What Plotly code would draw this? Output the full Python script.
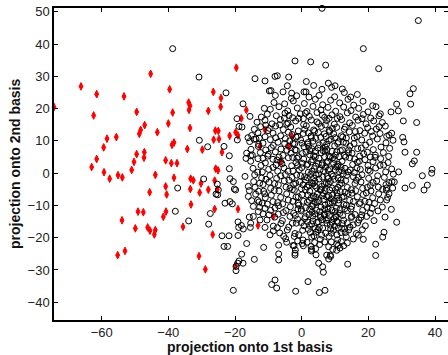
import plotly.graph_objects as go

# ---------------- data ----------------
red_pts = [
    (-74.3, 20.5), (-66.2, 26.9), (-61.5, 24.5), (-62.4, 17.9), (-53.3, 23.8), (-45.3, 30.8),
    (-49.5, 19.0), (-58.4, 10.7), (-55.6, 11.2), (-59.4, 8.0), (-61.5, 4.4), (-63.0, 1.9),
    (-59.3, 0.3), (-57.6, -1.7), (-55.1, -0.6), (-53.8, -1.3), (-51.0, 1.0), (-50.3, 3.5),
    (-49.5, 5.9), (-48.7, 12.2), (-48.3, 13.4), (-47.1, 14.9), (-47.2, 6.5), (-47.3, 4.8),
    (-43.3, 12.7), (-43.9, -0.5), (-45.6, -5.9), (-39.6, 26.0), (-38.7, 18.8), (-40.0, 15.4),
    (-38.9, 8.8), (-38.3, 9.5), (-40.8, 4.0), (-39.1, 3.1), (-37.4, 3.1), (-38.3, -1.4),
    (-40.8, -4.1), (-40.5, -6.6), (-49.1, -11.9), (-47.5, -12.1), (-53.9, -14.6), (-49.9, -17.1),
    (-46.2, -16.8), (-45.5, -17.8), (-44.2, -19.0), (-43.9, -17.6), (-41.5, -13.5), (-40.7, -11.9),
    (-55.2, -25.4), (-53.0, -24.1), (-33.9, 21.9), (-33.5, 20.9), (-33.8, 19.6), (-33.5, 14.0),
    (-34.3, 7.5), (-33.3, -1.7), (-32.5, -2.2), (-33.4, -4.9), (-33.2, -9.7), (-35.6, -16.6),
    (-30.8, -25.7), (-28.9, -29.8), (-30.2, -3.2), (-30.6, -6.0), (-29.8, 7.3), (-28.0, 19.3),
    (-26.5, 25.2), (-24.2, 23.3), (-24.3, 20.6), (-25.9, 13.2), (-25.0, 13.1), (-26.4, 10.4),
    (-24.8, 10.6), (-23.9, 6.5), (-25.8, 1.4), (-25.1, 0.9), (-26.1, -2.3), (-25.3, -5.0),
    (-28.0, -5.1), (-26.1, -11.1), (-26.7, -19.0), (-19.6, 32.7), (-21.6, 11.6), (-19.8, 12.7),
    (-19.1, 11.7), (-18.1, 17.0), (-16.6, 19.6), (-19.1, -11.1), (-13.1, -16.2), (-19.9, -28.7),
    (-12.5, 8.3), (-11.0, 13.4), (-3.9, 8.3), (-2.9, 11.4), (-6.3, 3.6), (-8.5, -13.4),
]

circles_outer = [
    (6.1, 51.1), (35.0, 47.3), (-38.7, 38.6), (18.5, 38.6), (-2.0, 34.8), (2.7, 34.5), (7.2, 33.5),
    (23.1, 32.4), (44.0, 32.3), (-30.8, 29.8), (-14.0, 29.3), (-11.0, 28.6), (-8.0, 30.0), (-7.3, 30.2),
    (-3.9, 29.8), (1.4, 28.4), (-22.7, 24.9), (-9.7, 25.5), (-9.2, 25.6), (-7.9, 24.1), (-5.6, 25.2),
    (-4.3, 27.1), (-3.0, 24.8), (-1.5, 24.0), (0.7, 25.2), (1.3, 25.2), (3.6, 27.2), (6.1, 26.0),
    (8.0, 27.9), (9.0, 26.6), (10.0, 27.1), (12.2, 26.1), (12.8, 25.0), (16.7, 24.4), (33.5, 26.2),
    (32.5, 24.6), (32.7, 21.4), (28.5, 21.4), (21.3, 20.9), (26.8, 19.0), (29.0, 19.3), (30.5, 16.2),
    (34.5, 15.7), (23.2, 17.8), (23.2, 14.4), (30.3, 11.1), (30.7, 9.7), (27.0, 12.4), (25.5, 11.4),
    (31.0, 6.5), (34.5, 6.5), (33.8, 3.8), (33.2, 2.9), (39.1, 1.2), (39.0, 0.0), (36.2, -0.8),
    (37.7, -3.7), (36.7, -5.2), (33.2, -3.8), (31.0, -4.6), (29.1, 0.4), (27.8, -2.7), (26.2, -2.9),
    (25.5, -4.6), (26.2, -6.4), (25.5, -8.3), (26.9, -11.2), (28.5, -15.2), (25.0, -13.6), (24.7, -18.3),
    (24.3, -19.8), (22.2, -22.0), (22.2, -25.5), (13.8, -28.2), (18.5, -20.5), (11.0, -22.4), (11.5, -23.2),
    (10.5, -23.9), (8.6, -25.4), (8.1, -26.6), (8.7, -25.8), (7.5, -25.4), (5.1, -27.9), (6.3, -29.0),
    (6.5, -30.7), (1.9, -33.6), (5.3, -37.0), (7.0, -36.3), (-1.8, -36.6), (-8.0, -33.1), (-9.0, -34.5),
    (-7.5, -35.6), (-20.5, -36.3), (-19.7, -30.2), (-19.7, -28.9), (-19.2, -27.9), (-18.8, -27.2),
    (-17.6, -27.9), (-18.0, -25.1), (-14.2, -26.7), (-11.4, -23.0), (-6.9, -22.3), (-6.9, -25.0),
    (-6.9, -26.9), (-4.5, -21.4), (-2.3, -22.5), (-1.9, -23.8), (-2.0, -25.4), (-2.0, -24.8), (0.5, -22.5),
    (3.0, -23.6), (2.9, -24.1), (4.3, -25.3), (-42.9, -45.7), (-23.9, -19.4), (-21.8, -19.4), (-23.3, -22.7),
    (-22.2, -22.7), (-27.9, -15.8), (-27.4, -12.5), (-33.9, -14.8), (-37.9, -11.8), (-37.2, -4.6),
    (-29.4, -1.8), (-28.2, 8.2), (-30.7, 10.2), (-25.3, -3.4), (-25.7, -6.5), (-25.2, -6.7), (-25.0, -5.2),
    (-23.3, 8.3), (-21.7, 5.4), (-21.7, 1.4), (-21.5, -1.7), (-20.5, -2.6), (-20.2, -4.9), (-19.8, -5.2),
    (-21.5, -8.8), (-23.0, -9.3), (-20.8, -9.5), (-19.1, -15.1), (-18.9, -16.8), (-19.1, -19.3),
    (-18.1, -16.2), (-17.5, -17.3), (-15.4, -16.8), (-16.5, -21.8), (-19.4, 16.9), (-17.6, 21.5),
    (-19.3, 10.3), (-18.8, 14.5), (-17.9, 14.3), (-15.5, 17.6), (-14.3, 10.5), (-16.1, 11.0), (-16.5, 6.2),
    (-16.7, 4.6), (-15.3, 5.4), (-17.0, -1.0), (-16.0, -4.1), (-15.7, -5.4), (-16.0, -7.2), (-15.0, -8.5),
    (-14.5, -10.3), (-14.5, -13.4), (-15.7, -13.6), (-15.3, -15.5), (-12.8, -8.9), (-13.0, -11.9),
    (-11.0, -10.9), (-12.5, -14.5), (-11.0, -16.8), (-9.5, -19.1), (-8.5, -17.9),
]

circles_core_upper = [
    (-2.5, 22.4), (0.8, 21.6), (4.1, 22.9), (6.3, 21.2), (8.7, 22.6), (11.4, 21.8), (13.9, 22.9), (15.6, 21.1),
    (2.2, 23.6), (-5.1, 21.5), (18.4, 22.3),
    (-9.4, 19.8), (-6.8, 20.6), (-4.2, 19.3), (-1.3, 20.2), (1.6, 19.1), (3.4, 20.7), (5.8, 19.6), (7.9, 20.4),
    (10.2, 19.2), (12.6, 20.5), (14.8, 19.4), (17.1, 20.1), (19.9, 19.0), (22.3, 20.6), (-11.2, 20.1),
    (-12.1, 17.4), (-10.3, 18.3), (-7.6, 17.8), (-5.0, 18.6), (-2.7, 17.2), (-0.4, 18.4), (2.3, 17.6),
    (4.6, 18.8), (6.9, 17.3), (9.1, 18.1), (11.5, 17.5), (13.7, 18.7), (16.2, 17.4), (18.5, 18.2),
    (20.7, 17.1), (23.6, 18.4), (-3.8, 17.9), (8.2, 17.0),
    (-13.4, 15.8), (-11.0, 16.4), (-8.9, 15.3), (-6.4, 16.6), (-4.1, 15.5), (-1.8, 16.2), (0.6, 15.1),
    (2.9, 16.5), (5.1, 15.4), (7.5, 16.3), (9.8, 15.2), (12.0, 16.6), (14.4, 15.6), (16.9, 16.4),
    (19.3, 15.3), (21.6, 16.2), (24.2, 15.7), (-0.9, 17.0), (10.7, 17.0),
    (-14.2, 13.6), (-12.3, 14.4), (-10.1, 13.2), (-7.8, 14.6), (-5.5, 13.5), (-3.3, 14.3), (-1.0, 13.1),
    (1.4, 14.7), (3.6, 13.4), (5.9, 14.5), (8.3, 13.3), (10.5, 14.2), (12.8, 13.6), (15.2, 14.8),
    (17.5, 13.2), (19.8, 14.1), (22.4, 13.7), (25.1, 14.6), (4.6, 15.9), (-6.6, 15.0),
    (-15.0, 11.7), (-13.1, 12.5), (-11.0, 11.3), (-8.6, 12.4), (-6.3, 11.6), (-4.0, 12.7), (-1.7, 11.2),
    (0.5, 12.3), (2.8, 11.5), (5.0, 12.6), (7.3, 11.4), (9.6, 12.2), (11.9, 11.6), (14.3, 12.8),
    (16.6, 11.3), (18.9, 12.4), (21.3, 11.5), (23.5, 12.3), (26.2, 11.8), (3.9, 13.0), (8.4, 12.9), (-2.9, 12.0),
    (-15.6, 9.8), (-13.7, 10.6), (-11.6, 9.3), (-9.4, 10.4), (-7.1, 9.6), (-4.9, 10.7), (-2.6, 9.2),
    (-0.3, 10.3), (1.9, 9.5), (4.2, 10.8), (6.4, 9.4), (8.8, 10.5), (11.0, 9.7), (13.4, 10.9), (15.7, 9.2),
    (18.0, 10.3), (20.4, 9.6), (22.7, 10.6), (25.3, 9.4), (27.4, 10.2), (2.9, 11.0), (7.5, 9.0), (12.3, 11.2), (-1.2, 11.4),
    (-15.2, 7.4), (-13.0, 8.3), (-10.8, 7.2), (-8.5, 8.6), (-6.2, 7.5), (-3.9, 8.4), (-1.6, 7.1), (0.7, 8.2),
    (3.0, 7.6), (5.3, 8.8), (7.6, 7.3), (9.9, 8.5), (12.2, 7.2), (14.5, 8.4), (16.8, 7.6), (19.2, 8.7),
    (21.5, 7.3), (23.8, 8.1), (26.4, 7.7), (1.8, 9.0), (6.4, 7.0), (10.8, 9.2), (4.1, 6.9), (13.3, 9.3),
    (-14.8, 5.6), (-12.4, 6.4), (-10.2, 5.3), (-7.9, 6.6), (-5.6, 5.5), (-3.2, 6.2), (-0.9, 5.1), (1.3, 6.5),
    (3.6, 5.4), (5.9, 6.3), (8.2, 5.2), (10.5, 6.6), (12.8, 5.5), (15.1, 6.2), (17.4, 5.3), (19.7, 6.5),
    (22.1, 5.6), (24.5, 6.4), (26.1, 5.2), (2.5, 7.0), (7.0, 6.9), (11.6, 7.0), (-2.0, 7.2), (9.3, 4.8),
    (-15.3, 3.7), (-13.1, 4.5), (-10.9, 3.2), (-8.6, 4.3), (-6.3, 3.6), (-4.0, 4.8), (-1.7, 3.3), (0.6, 4.4),
    (2.9, 3.5), (5.2, 4.6), (7.5, 3.2), (9.8, 4.3), (12.1, 3.7), (14.4, 4.8), (16.7, 3.4), (19.0, 4.2),
    (21.4, 3.6), (23.7, 4.5), (25.9, 3.3), (4.1, 5.0), (8.6, 5.0), (13.2, 5.0), (1.8, 2.8), (11.0, 2.7),
    (-14.6, 1.5), (-12.2, 2.4), (-9.9, 1.2), (-7.7, 2.6), (-5.3, 1.6), (-3.0, 2.3), (-0.7, 1.1), (1.5, 2.5),
    (3.8, 1.4), (6.1, 2.6), (8.4, 1.3), (10.7, 2.2), (13.0, 1.5), (15.3, 2.7), (17.6, 1.2), (19.9, 2.4),
    (22.2, 1.6), (24.6, 2.5), (27.0, 1.3), (5.0, 3.0), (9.6, 3.0), (0.2, 3.1), (12.0, 0.8), (3.1, 0.6),
]

circles_core_lower = [
    (-14.1, -0.5), (-11.8, 0.4), (-9.5, -0.7), (-7.2, 0.6), (-4.9, -0.4), (-2.6, 0.7), (-0.3, -0.8), (2.0, 0.3),
    (4.3, -0.6), (6.6, 0.8), (8.9, -0.3), (11.2, 0.5), (13.5, -0.7), (15.8, 0.2), (18.1, -0.5), (20.5, 0.6),
    (22.8, -0.8), (25.2, 0.4), (27.5, -0.3), (5.5, 1.0), (10.1, 1.0), (7.7, -1.0), (0.9, -1.1), (14.6, 1.0),
    (-14.4, -2.6), (-12.0, -1.5), (-9.8, -2.8), (-7.5, -1.6), (-5.2, -2.4), (-2.9, -1.3), (-0.6, -2.7),
    (1.7, -1.4), (4.0, -2.5), (6.3, -1.2), (8.6, -2.6), (10.9, -1.5), (13.2, -2.3), (15.5, -1.1),
    (17.8, -2.7), (20.1, -1.6), (22.5, -2.4), (24.8, -1.3), (27.1, -2.6), (3.0, -3.0), (7.4, -3.0),
    (12.0, -3.1), (5.2, -1.8), (9.8, -1.9), (-1.8, -3.1),
    (-14.0, -4.4), (-11.6, -3.5), (-9.3, -4.7), (-7.0, -3.6), (-4.7, -4.3), (-2.4, -3.4), (-0.1, -4.8),
    (2.2, -3.7), (4.5, -4.5), (6.8, -3.3), (9.1, -4.6), (11.4, -3.5), (13.7, -4.4), (16.0, -3.2),
    (18.3, -4.7), (20.6, -3.8), (23.0, -4.3), (25.3, -3.5), (27.3, -4.6), (1.1, -5.1), (5.6, -5.2),
    (10.2, -5.0), (3.4, -3.2), (8.0, -3.3), (14.9, -5.1),
    (-13.8, -6.5), (-11.4, -5.6), (-9.1, -6.8), (-6.8, -5.5), (-4.5, -6.4), (-2.2, -5.3), (0.1, -6.7),
    (2.4, -5.6), (4.7, -6.5), (7.0, -5.4), (9.3, -6.8), (11.6, -5.7), (13.9, -6.3), (16.2, -5.4),
    (18.5, -6.6), (20.8, -5.5), (23.1, -6.4), (25.4, -5.3), (3.6, -7.1), (8.1, -7.0), (12.7, -7.2),
    (5.9, -5.0), (-1.0, -7.3),
    (-13.2, -8.4), (-10.9, -7.6), (-8.6, -8.8), (-6.3, -7.5), (-4.0, -8.3), (-1.7, -7.4), (0.6, -8.7),
    (2.9, -7.6), (5.2, -8.5), (7.5, -7.3), (9.8, -8.6), (12.1, -7.5), (14.4, -8.4), (16.7, -7.3),
    (19.0, -8.7), (21.3, -7.6), (23.6, -8.3), (25.8, -7.5), (4.1, -9.1), (8.6, -9.2), (1.7, -9.0),
    (6.3, -7.0), (11.0, -9.3), (17.6, -9.1),
    (-12.6, -10.5), (-10.3, -9.6), (-8.0, -10.8), (-5.7, -9.5), (-3.4, -10.4), (-1.1, -9.3), (1.2, -10.7),
    (3.5, -9.6), (5.8, -10.5), (8.1, -9.4), (10.4, -10.8), (12.7, -9.7), (15.0, -10.3), (17.3, -9.5),
    (19.6, -10.6), (21.9, -9.4), (24.2, -10.5), (2.4, -11.2), (6.9, -11.1), (11.5, -11.3), (4.7, -9.0),
    (9.2, -9.1), (-0.1, -11.2),
    (-11.6, -12.6), (-9.3, -11.5), (-7.0, -12.7), (-4.7, -11.6), (-2.4, -12.4), (-0.1, -11.7), (2.2, -12.8),
    (4.5, -11.5), (6.8, -12.6), (9.1, -11.4), (11.4, -12.5), (13.7, -11.6), (16.0, -12.8), (18.3, -11.5),
    (20.6, -12.4), (22.9, -11.7), (5.6, -13.2), (10.2, -13.1), (3.3, -13.3), (7.9, -11.0), (15.0, -13.4),
    (-10.4, -14.5), (-8.1, -13.6), (-5.8, -14.7), (-3.5, -13.4), (-1.2, -14.3), (1.1, -13.5), (3.4, -14.8),
    (5.7, -13.7), (8.0, -14.4), (10.3, -13.5), (12.6, -14.6), (14.9, -13.7), (17.2, -14.5), (19.5, -13.4),
    (21.7, -14.7), (4.5, -15.3), (9.1, -15.2), (6.8, -13.0), (-0.1, -15.3), (13.7, -15.4),
    (-8.5, -16.4), (-6.2, -15.6), (-3.9, -16.7), (-1.6, -15.5), (0.7, -16.3), (3.0, -15.7), (5.3, -16.8),
    (7.6, -15.5), (9.9, -16.4), (12.2, -15.6), (14.5, -16.7), (16.8, -15.4), (19.1, -16.3), (4.1, -17.2),
    (8.7, -17.3), (11.0, -17.0), (2.0, -17.4),
    (-6.6, -18.5), (-4.3, -17.6), (-2.0, -18.7), (0.3, -17.7), (2.6, -18.4), (4.9, -17.5), (7.2, -18.6),
    (9.5, -17.7), (11.8, -18.4), (14.1, -17.6), (16.4, -18.7), (18.2, -17.5), (6.0, -19.2), (10.6, -19.1),
    (3.7, -19.4),
    (-4.8, -20.3), (-2.2, -19.6), (0.4, -20.7), (3.0, -19.8), (5.6, -20.5), (8.2, -19.6), (10.8, -20.6),
    (13.4, -19.7), (15.5, -20.4), (6.9, -21.3), (1.6, -21.4), (11.9, -21.2),
    (-2.6, -22.4), (0.2, -21.8), (2.8, -22.7), (5.4, -22.1), (8.1, -22.8), (10.5, -21.9), (12.6, -22.5),
    (4.2, -23.4), (9.3, -23.6),
]

circles_center_extra = [
    (-2.1, 9.1), (0.2, 6.1), (2.1, 8.3), (3.3, 4.2), (4.9, 7.8), (6.2, 3.1), (7.1, 8.1), (8.0, 0.9),
    (9.1, 6.8), (10.2, 2.0), (11.3, 5.1), (12.5, 9.6), (-1.4, 4.6), (0.0, 1.7), (1.2, -2.1), (2.7, -0.4),
    (3.9, -3.9), (5.1, -0.2), (6.0, -4.1), (7.2, 1.9), (8.4, -5.2), (9.5, -0.9), (10.6, -6.1), (11.8, -2.1),
    (13.0, -5.9), (13.9, 0.4), (-2.8, -5.1), (-0.9, -9.9), (0.4, -3.6), (1.9, -6.8), (3.1, -10.2), (4.2, -7.4),
    (5.4, -11.9), (6.6, -8.1), (7.8, -12.2), (8.9, -7.9), (10.0, -11.9), (11.1, -8.3), (12.3, -13.1),
    (13.4, -9.9), (-1.9, -13.1), (0.9, -14.1), (2.3, -16.2), (4.0, -12.6), (5.0, -15.1), (6.3, -17.0),
    (7.4, -14.6), (8.6, -16.1), (9.7, -14.1), (10.9, -15.3), (12.0, -17.1), (13.1, -18.4), (-3.8, -2.2),
    (-5.9, 2.9), (-4.4, 7.1), (-6.9, -10.1), (-7.4, 4.1), (-8.1, -3.2), (15.5, -8.8), (16.4, -2.2),
    (17.3, 3.7), (18.0, -12.9), (14.0, 6.3), (15.8, 10.9), (17.9, 7.8), (19.4, -6.1), (20.0, 1.0),
    (21.1, -10.9), (22.0, 4.9), (-10.0, 5.9), (-11.1, -6.4), (-9.7, 13.9), (-12.6, -3.1), (-12.9, 8.9),
    (2.0, 12.5), (5.7, 11.1), (9.2, 13.9), (0.5, 16.9), (6.2, 18.0), (-4.5, 15.2),
]

circles_center_fill = [
    (-8.3, 21.9), (-3.1, 23.2), (5.2, 24.1), (9.9, 23.7), (14.7, 23.6), (-10.8, 14.9), (-5.2, 17.1),
    (1.1, 18.6), (7.1, 15.0), (13.1, 14.3), (18.1, 16.9), (-12.7, 10.9), (-7.8, 11.0), (-3.6, 10.0),
    (0.9, 13.6), (6.8, 12.2), (10.0, 11.0), (16.1, 12.9), (20.9, 12.9), (-9.1, 7.9), (-5.1, 9.2),
    (0.1, 9.3), (3.4, 9.9), (8.2, 10.1), (14.1, 7.2), (18.6, 6.0), (-11.6, 4.6), (-6.8, 5.0),
    (-2.7, 4.9), (2.4, 5.7), (6.9, 5.1), (10.1, 5.6), (15.9, 4.4), (20.6, 5.0), (-13.2, 0.3),
    (-8.6, 1.8), (-4.1, 0.6), (-1.2, 2.4), (4.2, 2.2), (7.8, 3.7), (11.8, 1.9), (16.6, 1.6),
    (23.5, 2.4), (-10.7, -1.9), (-6.3, -0.8), (-1.5, -0.6), (3.6, -1.5), (8.0, -1.6), (12.5, -0.2),
    (17.0, -1.3), (21.4, -2.9), (-12.9, -5.6), (-8.2, -5.4), (-3.5, -4.6), (1.6, -4.3), (6.5, -6.2),
    (10.9, -4.4), (15.1, -6.2), (19.7, -4.4), (24.3, -5.0), (-11.8, -9.3), (-7.2, -9.1), (-2.6, -8.7),
    (2.3, -8.4), (7.0, -9.9), (10.7, -7.1), (14.8, -11.1), (20.2, -9.0), (-9.8, -12.9), (-5.5, -12.2),
    (-1.1, -11.1), (3.1, -12.1), (8.3, -13.2), (12.9, -11.0), (17.8, -13.7), (-7.3, -16.9), (-2.8, -15.5),
    (1.8, -15.1), (6.1, -14.4), (10.5, -14.9), (15.5, -16.0), (-5.4, -19.5), (-0.9, -19.1), (4.3, -18.3),
    (8.9, -18.6), (12.9, -17.3), (17.0, -19.2), (-1.2, -21.0), (3.9, -21.5), (8.9, -21.3), (13.7, -21.6),
]

x_ticks = [-60, -40, -20, 0, 20, 40]
y_ticks = [-40, -30, -20, -10, 0, 10, 20, 30, 40, 50]
x_title = "projection onto 1st basis"
y_title = "projection onto 2nd basis"

# ---------------- figure ----------------
circles = (circles_outer + circles_core_upper + circles_core_lower
           + circles_center_extra + circles_center_fill)
cx = [p[0] for p in circles]
cy = [p[1] for p in circles]
rx = [p[0] for p in red_pts]
ry = [p[1] for p in red_pts]

XR = [-74.3, 43.9]
YR = [-45.5, 51.2]

fig = go.Figure()
fig.add_trace(go.Scatter(
    x=rx, y=ry, mode="markers",
    marker=dict(symbol="diamond-tall", size=5.5, color="#ff0000",
                line=dict(color="#ff0000", width=1)),
    cliponaxis=False, showlegend=False, hoverinfo="skip"))
fig.add_trace(go.Scatter(
    x=cx, y=cy, mode="markers",
    marker=dict(symbol="circle-open", size=6, color="#000000",
                line=dict(color="#000000", width=1)),
    cliponaxis=False, showlegend=False, hoverinfo="skip"))
# invisible trace for the right-hand tick axis
fig.add_trace(go.Scatter(x=[None], y=[None], yaxis="y2", mode="markers",
                         showlegend=False, hoverinfo="skip"))

tickfont = dict(family="Liberation Sans, Arial, sans-serif", size=13, color="#222222")

fig.update_layout(
    width=448, height=355,
    margin=dict(l=54, r=0, t=8, b=35),
    paper_bgcolor="white", plot_bgcolor="white",
    xaxis=dict(range=XR, tickvals=x_ticks, ticks="inside", ticklen=4, tickwidth=1,
               tickcolor="black", showline=True, linecolor="black", linewidth=1.5,
               mirror="ticks", showgrid=False, zeroline=False, tickfont=tickfont,
               automargin=False),
    yaxis=dict(range=YR, tickvals=y_ticks, ticks="inside", ticklen=4, tickwidth=1,
               tickcolor="black", showline=True, linecolor="black", linewidth=1.5,
               mirror=False, showgrid=False, zeroline=False, tickfont=tickfont,
               automargin=False),
    yaxis2=dict(range=YR, tickvals=y_ticks, ticks="inside", ticklen=4, tickwidth=1,
                tickcolor="black", showline=False, overlaying="y", side="right",
                showticklabels=False, showgrid=False, zeroline=False),
    annotations=[
        dict(text="<b>%s</b>" % x_title, xref="paper", yref="paper", x=0.497, y=-0.087,
             xanchor="center", yanchor="middle", showarrow=False,
             font=dict(family="Liberation Sans, Arial, sans-serif", size=14, color="#111111")),
        dict(text="<b>%s</b>" % y_title, xref="paper", yref="paper", x=-0.099, y=0.503,
             xanchor="center", yanchor="middle", textangle=-90, showarrow=False,
             font=dict(family="Liberation Sans, Arial, sans-serif", size=14, color="#111111")),
    ],
)

fig.write_html("out.html")
